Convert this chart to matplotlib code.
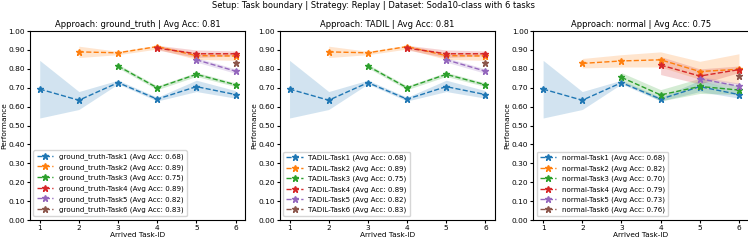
import numpy as np
import matplotlib
matplotlib.use('Agg')
import matplotlib.pyplot as plt

# x positions (arrived task id)
task_ids = [1, 2, 3, 4, 5, 6]
approaches = ['ground_truth', 'TADIL', 'normal']
approach_avg = [0.81, 0.81, 0.75]

# mean performance per task, starting at the task's own arrival
gt_mean = [
    [0.693, 0.634, 0.727, 0.640, 0.706, 0.664],
    [0.890, 0.885, 0.918, 0.870, 0.868],
    [0.815, 0.700, 0.771, 0.716],
    [0.910, 0.880, 0.880],
    [0.848, 0.788],
    [0.832],
]
gt_low = [
    [0.540, 0.585, 0.720, 0.630, 0.680, 0.645],
    [0.860, 0.875, 0.905, 0.850, 0.845],
    [0.805, 0.690, 0.760, 0.706],
    [0.900, 0.860, 0.870],
    [0.836, 0.776],
    [0.832],
]
gt_high = [
    [0.845, 0.680, 0.740, 0.650, 0.740, 0.685],
    [0.920, 0.893, 0.925, 0.885, 0.885],
    [0.825, 0.710, 0.782, 0.726],
    [0.925, 0.900, 0.895],
    [0.860, 0.800],
    [0.832],
]
gt_legend = [0.68, 0.89, 0.75, 0.89, 0.82, 0.83]

normal_mean = [
    [0.693, 0.634, 0.727, 0.640, 0.706, 0.664],
    [0.829, 0.842, 0.848, 0.786, 0.798],
    [0.755, 0.662, 0.707, 0.688],
    [0.820, 0.762, 0.796],
    [0.748, 0.708],
    [0.763],
]
normal_low = [
    [0.540, 0.585, 0.720, 0.630, 0.680, 0.645],
    [0.805, 0.810, 0.810, 0.745, 0.720],
    [0.735, 0.630, 0.670, 0.665],
    [0.770, 0.720, 0.780],
    [0.735, 0.690],
    [0.763],
]
normal_high = [
    [0.845, 0.680, 0.740, 0.650, 0.740, 0.685],
    [0.855, 0.875, 0.890, 0.840, 0.880],
    [0.780, 0.690, 0.750, 0.710],
    [0.865, 0.800, 0.815],
    [0.760, 0.725],
    [0.763],
]
normal_legend = [0.68, 0.82, 0.70, 0.79, 0.73, 0.76]

data = {
    'ground_truth': (gt_mean, gt_low, gt_high, gt_legend),
    'TADIL': (gt_mean, gt_low, gt_high, gt_legend),
    'normal': (normal_mean, normal_low, normal_high, normal_legend),
}

colors = plt.rcParams['axes.prop_cycle'].by_key()['color']

fig = plt.figure(figsize=(7.48, 2.41), dpi=100)
lefts = [0.040, 0.374, 0.713]
width = 0.288
fs = 5.3

for i, name in enumerate(approaches):
    ax = fig.add_axes([lefts[i], 0.087, width, 0.784])
    mean, low, high, leg = data[name]
    for t in range(6):
        xs = task_ids[t:]
        ax.plot(xs, mean[t], linestyle='--', marker='*', color=colors[t],
                linewidth=1.0, markersize=4.5,
                label=f'{name}-Task{t + 1} (Avg Acc: {leg[t]:.2f})')
        ax.fill_between(xs, low[t], high[t], color=colors[t], alpha=0.2, linewidth=0)
    ax.set_ylim(0, 1)
    ax.set_xticks(task_ids)
    ax.set_yticks(np.arange(0, 1.01, 0.1))
    ax.set_yticklabels([f'{v:.2f}' for v in np.arange(0, 1.01, 0.1)])
    ax.tick_params(labelsize=fs, length=2, pad=1.5)
    ax.set_xlabel('Arrived Task-ID', fontsize=fs, labelpad=1)
    ax.set_ylabel('Performance', fontsize=fs, labelpad=1)
    ax.set_title(f'Approach: {name} | Avg Acc: {approach_avg[i]:.2f}', fontsize=6.0, pad=3)
    ax.legend(loc='lower left', fontsize=5.1, handlelength=2.3, labelspacing=0.55,
              borderpad=0.45)

fig.suptitle('Setup: Task boundary | Strategy: Replay | Dataset: Soda10-class with 6 tasks',
             fontsize=6.0, y=0.995)

fig.savefig('out.png', dpi=100)
